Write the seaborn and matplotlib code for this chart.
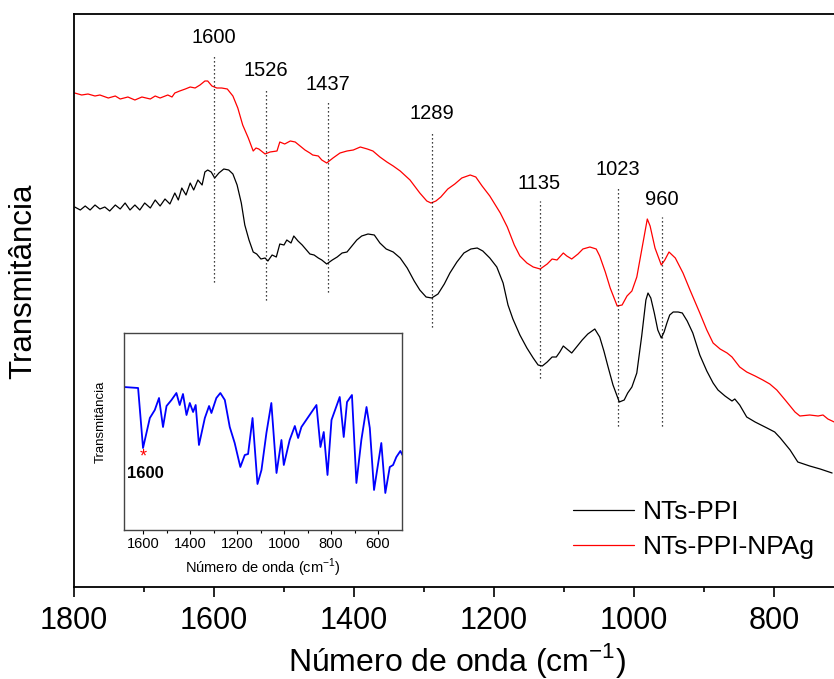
import numpy as np
import pandas as pd
import matplotlib
matplotlib.use('Agg')
import matplotlib.pyplot as plt
import seaborn as sns

# main spectra (wavenumber cm-1, transmittance a.u.)
wn_ppi = [1799, 1791, 1784, 1777, 1770, 1763, 1756, 1749, 1741, 1734, 1727, 1720, 1713, 1706, 1699,
          1691, 1684, 1677, 1670, 1663, 1656, 1651, 1646, 1640, 1634, 1629, 1623, 1617, 1613, 1609,
          1604, 1599, 1593, 1586, 1579, 1573, 1567, 1561, 1556, 1550, 1544, 1539, 1533, 1527, 1523,
          1517, 1511, 1506, 1500, 1496, 1490, 1486, 1480, 1474, 1469, 1463, 1457, 1451, 1446, 1439,
          1431, 1424, 1417, 1410, 1403, 1396, 1389, 1380, 1371, 1363, 1354, 1344, 1334, 1324, 1314,
          1306, 1297, 1289, 1280, 1271, 1263, 1253, 1243, 1233, 1224, 1216, 1206, 1196, 1187, 1180,
          1173, 1163, 1153, 1144, 1137, 1131, 1124, 1117, 1111, 1106, 1101, 1096, 1089, 1081, 1074,
          1066, 1056, 1049, 1043, 1037, 1030, 1021, 1014, 1009, 1003, 996, 989, 983, 980, 976,
          971, 966, 961, 957, 953, 949, 944, 937, 931, 924, 916, 906, 896, 887, 880,
          870, 860, 856, 849, 839, 827, 810, 799, 791, 777, 766, 749, 734, 717]
t_ppi = [393, 390, 394, 390, 395, 391, 393, 389, 395, 391, 397, 390, 395, 390, 397,
         392, 400, 394, 401, 396, 407, 400, 412, 405, 417, 410, 420, 415, 428, 430,
         428, 422, 427, 431, 430, 426, 415, 397, 375, 360, 348, 346, 341, 342, 339,
         345, 343, 356, 355, 360, 357, 364, 359, 355, 351, 346, 345, 342, 340, 336,
         340, 343, 347, 348, 354, 360, 364, 366, 365, 357, 351, 348, 342, 332, 319,
         310, 303, 302, 306, 316, 327, 338, 347, 351, 352, 349, 342, 333, 317, 295,
         281, 265, 252, 242, 235, 234, 238, 243, 243, 248, 254, 251, 247, 254, 260,
         266, 271, 263, 249, 233, 215, 198, 200, 207, 213, 227, 264, 300, 307, 302,
         287, 270, 262, 268, 277, 285, 288, 288, 287, 279, 267, 245, 229, 217, 210,
         204, 199, 201, 195, 183, 178, 172, 168, 162, 150, 138, 134, 131, 127]

wn_npag = [1799, 1789, 1780, 1770, 1763, 1751, 1741, 1734, 1723, 1713, 1703, 1691, 1684, 1677, 1666,
           1660, 1656, 1649, 1641, 1634, 1627, 1620, 1613, 1609, 1603, 1596, 1589, 1581, 1573, 1566,
           1559, 1551, 1544, 1540, 1536, 1527, 1520, 1510, 1506, 1499, 1491, 1484, 1477, 1470, 1463,
           1459, 1451, 1446, 1439, 1430, 1420, 1410, 1401, 1391, 1381, 1373, 1363, 1353, 1344, 1334,
           1320, 1306, 1296, 1290, 1283, 1276, 1266, 1256, 1246, 1234, 1226, 1217, 1206, 1191, 1181,
           1171, 1163, 1153, 1144, 1134, 1124, 1117, 1110, 1101, 1096, 1089, 1080, 1073, 1063, 1054,
           1049, 1041, 1034, 1024, 1017, 1010, 1003, 996, 989, 981, 977, 970, 961, 956, 950,
           941, 930, 920, 906, 896, 887, 877, 867, 860, 849, 839, 827, 816, 806, 796,
           784, 770, 763, 749, 737, 730, 723, 714]
t_npag = [507, 505, 506, 504, 505, 502, 504, 501, 503, 500, 503, 501, 504, 502, 505,
          503, 507, 509, 511, 513, 512, 515, 519, 519, 514, 512, 512, 511, 504, 492,
          475, 462, 449, 452, 451, 446, 448, 449, 458, 456, 459, 458, 454, 450, 447,
          445, 444, 440, 437, 442, 447, 449, 450, 453, 451, 449, 443, 438, 434, 429,
          420, 407, 399, 397, 399, 403, 411, 416, 422, 425, 423, 414, 404, 387, 373,
          355, 344, 337, 333, 331, 336, 341, 340, 347, 344, 341, 346, 351, 353, 351,
          344, 328, 312, 294, 295, 304, 309, 323, 350, 381, 374, 352, 335, 340, 348,
          342, 327, 310, 287, 270, 257, 251, 247, 243, 233, 228, 224, 220, 216, 210,
          200, 188, 184, 185, 184, 185, 181, 178]

# marked bands: wavenumber, dotted line top / bottom
band_wn = [1600, 1526, 1437, 1289, 1135, 1023, 960]
band_top = [545, 512, 498, 469, 399, 413, 383]
band_bottom = [318, 300, 308, 273, 222, 174, 174]

# inset spectrum
wn_inset = [1682, 1621, 1600, 1571, 1550, 1532, 1515, 1500, 1479, 1458, 1444, 1430, 1415, 1401, 1387,
            1376, 1362, 1337, 1319, 1309, 1288, 1271, 1252, 1231, 1210, 1186, 1167, 1153, 1134, 1113,
            1096, 1075, 1054, 1032, 1011, 1001, 976, 954, 940, 926, 862, 845, 831, 815, 798,
            763, 746, 732, 711, 692, 671, 649, 635, 617, 586, 569, 550, 536, 522, 505, 496]
t_inset = [213, 212, 152, 182, 190, 202, 173, 194, 200, 207, 195, 206, 185, 197, 188,
           195, 155, 182, 194, 187, 202, 207, 200, 173, 157, 133, 145, 146, 182, 116,
           130, 167, 197, 127, 160, 135, 160, 174, 162, 173, 195, 153, 168, 125, 180,
           203, 163, 198, 205, 117, 160, 193, 172, 110, 157, 107, 133, 135, 143, 149, 145]

sns.set_style("white")
plt.rcParams['font.family'] = ['Liberation Sans', 'DejaVu Sans']
plt.rcParams['mathtext.fontset'] = 'custom'
plt.rcParams['mathtext.rm'] = 'Liberation Sans'
plt.rcParams.update({'text.color': 'black', 'axes.labelcolor': 'black',
                     'xtick.color': 'black', 'ytick.color': 'black'})

W, H = 834, 679
fig = plt.figure(figsize=(W / 100, H / 100), dpi=100)
ax = fig.add_axes([74 / W, 1 - 587 / H, 766 / W, 573 / H])

df_ppi = pd.DataFrame({'wn': wn_ppi, 'T': t_ppi})
df_npag = pd.DataFrame({'wn': wn_npag, 'T': t_npag})
sns.lineplot(data=df_ppi, x='wn', y='T', color='black', lw=0.9, estimator=None, ax=ax, label='NTs-PPI')
sns.lineplot(data=df_npag, x='wn', y='T', color='#ff0000', lw=0.9, estimator=None, ax=ax, label='NTs-PPI-NPAg')

ax.vlines(band_wn, band_bottom, band_top, colors='black', linestyles=(0, (1, 2.2)), lw=0.9)
for w, top in zip(band_wn, band_top):
    ax.annotate(str(w), (w, top), xytext=(0, 6), textcoords='offset points',
                ha='center', va='bottom', fontsize=14.5)

ax.set_xlim(1800, 1800 - 766 / 0.7)
ax.set_ylim(13, 586)
ax.set_xticks([1800, 1600, 1400, 1200, 1000, 800])
ax.set_xticks(np.arange(1700, 700, -200), minor=True)
ax.set_yticks([])
ax.tick_params(axis='x', which='major', direction='out', length=7, width=1.2, labelsize=22, pad=7, bottom=True)
ax.tick_params(axis='x', which='minor', direction='out', length=3.5, width=1.2, bottom=True)
for s in ax.spines.values():
    s.set_linewidth(1.3)
    s.set_color('black')
ax.set_xlabel('Número de onda (cm$^{\\mathregular{-1}}$)', fontsize=23, labelpad=3)
ax.set_ylabel('Transmitância', fontsize=22.5)
ax.yaxis.set_label_coords(-0.047, 0.534)

ax.legend(loc='upper left', bbox_to_anchor=(573 / W, 1 - 500 / H), bbox_transform=fig.transFigure,
          frameon=False, fontsize=19, handlelength=2.3, handletextpad=0.35, labelspacing=0.43,
          borderpad=0, borderaxespad=0)

# inset
axin = fig.add_axes([124 / W, 1 - 530 / H, 278 / W, 197 / H])
df_in = pd.DataFrame({'wn': wn_inset, 'T': t_inset})
sns.lineplot(data=df_in, x='wn', y='T', color='#0000ff', lw=1.3, estimator=None, ax=axin, legend=False)
axin.set_xlim(1681, 498)
axin.set_ylim(70, 267)
axin.set_xticks([1600, 1400, 1200, 1000, 800, 600])
axin.set_xticks([1500, 1300, 1100, 900, 700], minor=True)
axin.set_yticks([])
axin.tick_params(axis='x', which='major', direction='out', length=3, width=0.8, labelsize=10.5, pad=2, bottom=True)
axin.tick_params(axis='x', which='minor', direction='out', length=2, width=0.8, bottom=True)
for s in axin.spines.values():
    s.set_linewidth(1.0)
    s.set_color('#444444')
axin.set_xlabel('Número de onda (cm$^{\\mathregular{-1}}$)', fontsize=10.5, labelpad=4)
axin.set_ylabel('Transmitância', fontsize=9.5)
axin.yaxis.set_label_coords(-0.062, 0.548)
axin.text(1600, 143, '*', color='red', fontsize=13, ha='center', va='center')
axin.text(1588, 127, '1600', fontsize=12, fontweight='bold', ha='center', va='center')

fig.savefig('out.png', dpi=100)
